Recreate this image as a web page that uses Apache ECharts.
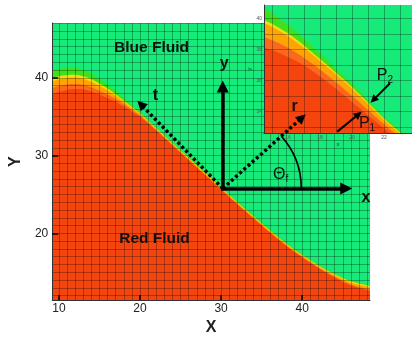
<!DOCTYPE html>
<html>
<head>
<meta charset="utf-8">
<script src="https://cdn.jsdelivr.net/npm/echarts@6/dist/echarts.min.js"></script>
<style>
  html, body { margin: 0; padding: 0; background: #fff; }
  #chart { width: 412px; height: 341px; }
</style>
</head>
<body>
<div id="chart"></div>
<script>
// ---- main view: top edge of each colour band along the interface ----
const mainX      = [9.18, 10, 11, 12, 13, 14, 15, 16, 17, 18, 19, 20, 22, 24, 26, 28, 30, 32, 34, 36, 38, 40, 42, 44, 46, 48.36];
const mainRed    = [37.9, 38.2, 38.45, 38.55, 38.5, 38.25, 37.85, 37.4, 36.9, 36.3, 35.65, 35.0, 33.2, 31.3, 29.4, 27.5, 25.6, 23.7, 21.9, 20.1, 18.4, 16.9, 15.5, 14.3, 13.3, 12.6];
const mainLight  = [38.7, 38.95, 39.15, 39.2, 39.1, 38.8, 38.35, 37.85, 37.28, 36.6, 35.87, 35.16, 33.3, 31.38, 29.48, 27.58, 25.68, 23.78, 21.98, 20.18, 18.48, 16.98, 15.6, 14.42, 13.44, 12.78];
const mainOrange = [39.6, 39.8, 39.95, 40.0, 39.85, 39.5, 38.97, 38.37, 37.7, 36.92, 36.11, 35.34, 33.42, 31.5, 29.6, 27.7, 25.8, 23.9, 22.1, 20.3, 18.6, 17.11, 15.75, 14.62, 13.69, 13.08];
const mainYellow = [40.0, 40.2, 40.35, 40.4, 40.2, 39.85, 39.27, 38.62, 37.9, 37.08, 36.24, 35.44, 33.52, 31.6, 29.7, 27.8, 25.9, 24.0, 22.2, 20.4, 18.7, 17.21, 15.87, 14.74, 13.83, 13.23];
const mainGreen  = [41.0, 41.15, 41.25, 41.3, 41.0, 40.55, 39.87, 39.12, 38.32, 37.42, 36.51, 35.66, 33.68, 31.75, 29.84, 27.94, 26.04, 24.14, 22.33, 20.52, 18.82, 17.33, 15.99, 14.84, 13.93, 13.33];

// ---- inset: close-up of the interface ----
const insetX      = [14.5, 15, 16, 17, 18, 19, 20, 21, 22, 23, 23.75];
const insetRed    = [38.1, 37.95, 37.5, 36.95, 36.25, 35.45, 34.6, 33.75, 32.9, 32.1, 31.5];
const insetLight  = [38.8, 38.6, 38.1, 37.45, 36.7, 35.87, 35.0, 34.09, 33.16, 32.32, 31.72];
const insetOrange = [39.7, 39.45, 38.85, 38.1, 37.25, 36.37, 35.45, 34.47, 33.44, 32.56, 31.96];
const insetYellow = [39.9, 39.65, 39.03, 38.25, 37.38, 36.49, 35.57, 34.57, 33.53, 32.64, 32.04];
const insetGreen  = [40.65, 40.35, 39.58, 38.7, 37.73, 36.77, 35.79, 34.73, 33.66, 32.76, 32.16];

// tick labels
const mainXTicks  = [10, 20, 30, 40];
const mainYTicks  = [20, 30, 40];
const insetXTicks = [16, 18, 20, 22];
const insetYTicks = [34, 36, 38, 40];

// annotation anchors (data units of each view)
const origin   = [30.2, 25.77];
const yArrowTo = [30.2, 38.88];
const xArrowTo = [45.43, 25.77];
const tArrowTo = [20.1, 36.6];
const rArrowTo = [39.98, 34.88];
const arcEdgeX = 39.89;
const p2Arrow  = [[22.375, 35.81], [21.34, 34.74]];
const p1Arrow  = [[19.08, 32.69], [20.41, 33.81]];

const mainTexts = [
  { name: 'Blue Fluid', value: [21.42, 43.83], kind: 'big' },
  { name: 'Red Fluid', value: [21.79, 19.34], kind: 'big' },
  { name: 't', value: [21.9, 37.77], kind: 'sym' },
  { name: 'r', value: [39.06, 36.29], kind: 'sym' },
  { name: 'x', value: [47.87, 24.66], kind: 'sym' },
  { name: 'y', value: [30.37, 41.85], kind: 'sym' },
  { name: '{m|Θ}{s|f}', value: [37.34, 27.6], kind: 'rich' }
];
const insetTexts = [
  { name: '{m|P}{s|2}', value: [22.06, 36.28], kind: 'rich' },
  { name: '{m|P}{s|1}', value: [20.94, 33.18], kind: 'rich' }
];

const MINT = '#16eb7a';
// drawn top band first, red last
const BAND_COLORS = ['#3fe01f', '#f6dc12', '#ffa405', '#fb6a1c', '#f4450f'];
const FONT = 'Liberation Sans, Arial, sans-serif';

const range = (a, b) => { const r = []; for (let i = a; i <= b; i++) r.push(i); return r; };

// one axis only for the cell lines, one for labels and major ticks
function lineAxis(grid, pos, min, max, cells, z) {
  return {
    type: 'value', gridIndex: grid, position: pos, min, max, z,
    axisLine: { show: true, onZero: false, lineStyle: { color: '#333', width: 1 } },
    axisTick: { show: false, customValues: cells },
    axisLabel: { show: false, customValues: cells },
    splitLine: { show: true, lineStyle: { color: 'rgba(0,0,0,0.29)', width: 1 } }
  };
}
function labelAxis(grid, pos, min, max, ticks, opts) {
  return Object.assign({
    type: 'value', gridIndex: grid, position: pos, min, max,
    axisLine: { show: false },
    splitLine: { show: false },
    axisTick: { show: true, inside: true, customValues: ticks, length: 5, lineStyle: { color: '#000', width: 1.5 } },
    axisLabel: { show: true, customValues: ticks, color: '#222', fontSize: 12, fontFamily: FONT, margin: 3 },
    nameLocation: 'middle'
  }, opts);
}

// every band is filled down to the bottom of its view; later ones cover earlier ones
function bandSeries(xs, tops, axisIdx, z) {
  return tops.map((vals, i) => ({
    type: 'line', xAxisIndex: axisIdx, yAxisIndex: axisIdx, z,
    data: xs.map((x, k) => [x, vals[k]]),
    symbol: 'none', smooth: 0.3, silent: true,
    lineStyle: { opacity: 0 },
    areaStyle: { color: BAND_COLORS[i], opacity: 1, origin: 'start' }
  }));
}

function textSeries(items, axisIdx, z) {
  return {
    type: 'scatter', xAxisIndex: axisIdx, yAxisIndex: axisIdx, z, silent: true,
    symbolSize: 1, itemStyle: { color: 'rgba(0,0,0,0)' },
    data: items.map(t => ({
      name: t.name, value: t.value,
      label: t.kind === 'big'
        ? { fontSize: 15.5, fontWeight: 'bold' }
        : t.kind === 'sym'
          ? { fontSize: 16, fontWeight: 'bold' }
          : {}
    })),
    label: {
      show: true, position: 'inside', fontFamily: FONT, color: '#111',
      textBorderWidth: 0, opacity: 1,
      formatter: p => p.name,
      rich: {
        m: { fontSize: 16, fontFamily: FONT, color: '#111' },
        s: { fontSize: 10, fontFamily: FONT, color: '#111', padding: [9, 0, 0, 0] }
      }
    }
  };
}

const chart = echarts.init(document.getElementById('chart'));

const option = {
  backgroundColor: '#fff',
  animation: false,
  grid: [
    { left: 50, top: 23, width: 320, height: 288, show: true, backgroundColor: MINT, borderWidth: 0 },
    { left: 264, top: 5, width: 148, height: 128, show: true, backgroundColor: MINT, borderWidth: 0, z: 15 }
  ],
  xAxis: [
    lineAxis(0, 'bottom', 9.18, 48.36, range(10, 48), 10),
    labelAxis(0, 'bottom', 9.18, 48.36, mainXTicks, {
      z: 11, name: 'X', nameGap: 12,
      nameTextStyle: { fontSize: 16, fontWeight: 'bold', color: '#222', fontFamily: FONT }
    }),
    lineAxis(1, 'bottom', 14.5, 23.75, range(15, 23), 25),
    labelAxis(1, 'bottom', 14.5, 23.75, insetXTicks, {
      z: 26, name: 'x', nameGap: 5,
      axisTick: { show: false, customValues: insetXTicks },
      axisLabel: { show: true, customValues: insetXTicks, color: '#555', fontSize: 5, fontFamily: FONT, margin: 2 },
      nameTextStyle: { fontSize: 6, color: '#333', fontFamily: FONT }
    })
  ],
  yAxis: [
    lineAxis(0, 'left', 11.42, 47.05, range(12, 47), 10),
    labelAxis(0, 'left', 11.42, 47.05, mainYTicks, {
      z: 11, name: 'Y', nameGap: 24,
      axisTick: { show: true, inside: true, customValues: mainYTicks, length: 6, lineStyle: { color: '#000', width: 1.5 } },
      axisLabel: { show: true, customValues: mainYTicks, color: '#222', fontSize: 12, fontFamily: FONT, margin: 4 },
      nameTextStyle: { fontSize: 16, fontWeight: 'bold', color: '#222', fontFamily: FONT }
    }),
    lineAxis(1, 'left', 32.6, 40.86, range(33, 40), 25),
    labelAxis(1, 'left', 32.6, 40.86, insetYTicks, {
      z: 26, name: 'y', nameGap: 10,
      axisTick: { show: false, customValues: insetYTicks },
      axisLabel: { show: true, customValues: insetYTicks, color: '#555', fontSize: 5, fontFamily: FONT, margin: 2 },
      nameTextStyle: { fontSize: 6, color: '#333', fontFamily: FONT }
    })
  ],
  series: [
    ...bandSeries(mainX, [mainGreen, mainYellow, mainOrange, mainLight, mainRed], 0, 2),
    ...bandSeries(insetX, [insetGreen, insetYellow, insetOrange, insetLight, insetRed], 2, 20),

    // solid x / y axes of the local frame
    {
      type: 'lines', coordinateSystem: 'cartesian2d', xAxisIndex: 0, yAxisIndex: 0, z: 30, silent: true,
      symbol: ['none', 'triangle'], symbolSize: 12,
      lineStyle: { color: '#000', width: 3.5, opacity: 1, cap: 'square' },
      data: [{ coords: [origin, yArrowTo] }, { coords: [origin, xArrowTo] }]
    },
    // dotted t / r directions
    {
      type: 'lines', coordinateSystem: 'cartesian2d', xAxisIndex: 0, yAxisIndex: 0, z: 30, silent: true,
      symbol: ['none', 'triangle'], symbolSize: 10,
      lineStyle: { color: '#000', width: 3.4, opacity: 1, type: [3, 2.6], cap: 'butt' },
      data: [{ coords: [origin, tArrowTo] }, { coords: [origin, rArrowTo] }]
    },
    // contact angle arc
    {
      type: 'custom', xAxisIndex: 0, yAxisIndex: 0, z: 30, silent: true,
      data: [[origin[0], origin[1], arcEdgeX, rArrowTo[0], rArrowTo[1]]],
      renderItem: (params, api) => {
        const c = api.coord([api.value(0), api.value(1)]);
        const e = api.coord([api.value(2), api.value(1)]);
        const t = api.coord([api.value(3), api.value(4)]);
        const ang = Math.atan2(c[1] - t[1], t[0] - c[0]);
        return {
          type: 'arc',
          shape: { cx: c[0], cy: c[1], r: e[0] - c[0], startAngle: -ang, endAngle: 0, clockwise: true },
          style: { stroke: '#000', lineWidth: 1.6, fill: 'none' }
        };
      }
    },
    textSeries(mainTexts, 0, 31),

    // P1 / P2 arrows in the inset
    {
      type: 'lines', coordinateSystem: 'cartesian2d', xAxisIndex: 2, yAxisIndex: 2, z: 30, silent: true,
      symbol: ['none', 'triangle'], symbolSize: 8,
      lineStyle: { color: '#000', width: 2, opacity: 1 },
      data: [{ coords: p2Arrow }, { coords: p1Arrow }]
    },
    textSeries(insetTexts, 2, 31)
  ]
};

chart.setOption(option);
</script>
</body>
</html>
